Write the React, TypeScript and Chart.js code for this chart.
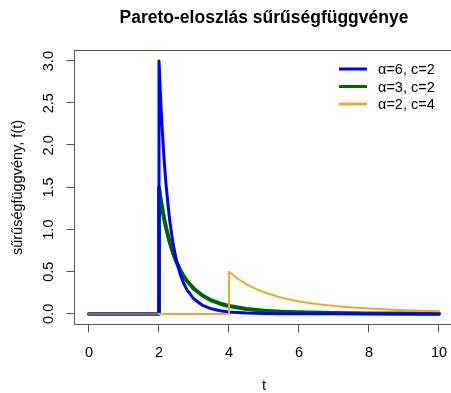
import React, { useEffect, useRef } from "react";
import { Chart, registerables } from "chart.js";

Chart.register(...registerables);

const TITLE = "Pareto-eloszlás sűrűségfüggvénye";
const X_TITLE = "t";
const Y_TITLE = "sűrűségfüggvény, f(t)";
const X_TICKS = [0, 2, 4, 6, 8, 10];
const X_TICK_LABELS = ["0", "2", "4", "6", "8", "10"];
const Y_TICKS = [0, 0.5, 1, 1.5, 2, 2.5, 3];
const Y_TICK_LABELS = ["0.0", "0.5", "1.0", "1.5", "2.0", "2.5", "3.0"];
const SERIES_LABELS = ["α=6, c=2", "α=3, c=2", "α=2, c=4"];
const SERIES_COLORS = ["#0000FF", "#006400", "#F4A72A"];
const SERIES_WIDTHS = [3, 4, 2];

const T_BLUE = [0, 2, 2, 2.05, 2.1, 2.15, 2.2, 2.3, 2.4, 2.5, 2.6, 2.7, 2.8, 3, 3.25, 3.5, 3.75, 4, 4.5, 5, 5.5, 6, 7, 8, 9, 10];
const F_BLUE = [0, 0, 3.0, 2.523, 2.132, 1.808, 1.539, 1.128, 0.837, 0.629, 0.478, 0.367, 0.285, 0.176, 0.1, 0.06, 0.037, 0.023, 0.01, 0.005, 0.0025, 0.0014, 0.0005, 0.0002, 0.0001, 0.00004];

const T_GREEN = [0, 2, 2, 2.05, 2.1, 2.15, 2.2, 2.3, 2.4, 2.5, 2.6, 2.7, 2.8, 3, 3.25, 3.5, 3.75, 4, 4.5, 5, 5.5, 6, 7, 8, 9, 10];
const F_GREEN = [0, 0, 1.5, 1.359, 1.234, 1.123, 1.025, 0.858, 0.723, 0.614, 0.525, 0.452, 0.39, 0.296, 0.215, 0.16, 0.121, 0.094, 0.059, 0.038, 0.026, 0.019, 0.01, 0.006, 0.004, 0.0024];

const T_ORANGE = [0, 2, 4, 4, 4.25, 4.5, 4.75, 5, 5.5, 6, 6.5, 7, 7.5, 8, 8.5, 9, 9.5, 10];
const F_ORANGE = [0, 0, 0, 0.5, 0.417, 0.351, 0.299, 0.256, 0.192, 0.148, 0.117, 0.093, 0.076, 0.0625, 0.052, 0.044, 0.037, 0.032];

const FONT = "'Liberation Sans', Arial, sans-serif";

const toPts = (t: number[], f: number[]) => t.map((x, i) => ({ x, y: f[i] }));

const decorPlugin = {
  id: "decor",
  afterDraw(chart: any) {
    const ctx = chart.ctx as CanvasRenderingContext2D;
    const area = chart.chartArea;
    const xs = chart.scales.x;
    const ys = chart.scales.y;
    ctx.save();
    const L = Math.round(area.left) - 0.5;
    const T = Math.round(area.top) - 0.5;
    const R = Math.round(area.right) - 0.5;
    const B = Math.round(area.bottom) + 0.5;
    ctx.strokeStyle = "#555";
    ctx.lineWidth = 1;
    ctx.strokeRect(L, T, R - L, B - T);
    ctx.beginPath();
    X_TICKS.forEach((v) => {
      const px = Math.round(xs.getPixelForValue(v)) - 0.5;
      ctx.moveTo(px, B);
      ctx.lineTo(px, B + 8);
    });
    Y_TICKS.forEach((v) => {
      const py = Math.round(ys.getPixelForValue(v)) - 0.5;
      ctx.moveTo(L, py);
      ctx.lineTo(L - 8, py);
    });
    ctx.stroke();
    ctx.fillStyle = "#000";
    ctx.font = `14.5px ${FONT}`;
    ctx.textAlign = "center";
    ctx.textBaseline = "alphabetic";
    X_TICKS.forEach((v, i) => {
      ctx.fillText(X_TICK_LABELS[i], xs.getPixelForValue(v), 357);
    });
    Y_TICKS.forEach((v, i) => {
      ctx.save();
      ctx.translate(53, ys.getPixelForValue(v));
      ctx.rotate(-Math.PI / 2);
      ctx.fillText(Y_TICK_LABELS[i], 0, 0);
      ctx.restore();
    });
    const cx = (area.left + area.right) / 2;
    const cy = (area.top + area.bottom) / 2;
    ctx.fillText(X_TITLE, cx, 390);
    ctx.save();
    ctx.translate(22, cy);
    ctx.rotate(-Math.PI / 2);
    ctx.fillText(Y_TITLE, 0, 0);
    ctx.restore();
    ctx.font = `bold 17.5px ${FONT}`;
    ctx.fillText(TITLE, cx, 23);
    ctx.font = `14.5px ${FONT}`;
    ctx.textAlign = "left";
    ctx.textBaseline = "middle";
    SERIES_LABELS.forEach((lab, i) => {
      const y = 69 + i * 17.5;
      ctx.strokeStyle = SERIES_COLORS[i];
      ctx.lineWidth = 3;
      ctx.beginPath();
      ctx.moveTo(339, y);
      ctx.lineTo(367, y);
      ctx.stroke();
      ctx.fillStyle = "#000";
      ctx.fillText(lab, 378, y + 1);
    });
    ctx.restore();
  },
};

export default function App() {
  const ref = useRef<HTMLCanvasElement | null>(null);
  useEffect(() => {
    if (!ref.current) return;
    const chart = new Chart(ref.current, {
      type: "line",
      data: {
        datasets: [
          {
            label: SERIES_LABELS[2],
            data: toPts(T_ORANGE, F_ORANGE),
            borderColor: SERIES_COLORS[2],
            borderWidth: SERIES_WIDTHS[2],
            order: 1,
            segment: {
              borderColor: (c: any) => (c.p1.parsed.x <= 2 ? "rgba(244,167,42,0.55)" : SERIES_COLORS[2]),
              borderWidth: (c: any) => (c.p1.parsed.x <= 2 ? 3 : SERIES_WIDTHS[2]),
            },
          },
          {
            label: SERIES_LABELS[0],
            data: toPts(T_BLUE, F_BLUE),
            borderColor: SERIES_COLORS[0],
            borderWidth: SERIES_WIDTHS[0],
            order: 2,
          },
          {
            label: SERIES_LABELS[1],
            data: toPts(T_GREEN, F_GREEN),
            borderColor: SERIES_COLORS[1],
            borderWidth: SERIES_WIDTHS[1],
            order: 3,
          },
        ],
      },
      options: {
        responsive: false,
        maintainAspectRatio: false,
        devicePixelRatio: 1,
        animation: false,
        events: [],
        layout: { padding: { left: 75, top: 51, right: 7, bottom: 69 } },
        elements: {
          point: { radius: 0 },
          line: { tension: 0, borderCapStyle: "round", borderJoinStyle: "round", fill: false },
        },
        plugins: {
          legend: { display: false },
          title: { display: false },
          tooltip: { enabled: false },
        },
        scales: {
          x: { type: "linear", min: -0.4, max: 10.4, display: false },
          y: { type: "linear", min: -0.12, max: 3.12, display: false },
        },
      },
      plugins: [decorPlugin],
    });
    return () => chart.destroy();
  }, []);
  return (
    <div
      style={{
        position: "fixed",
        left: 0,
        top: 0,
        width: 451,
        height: 393,
        overflow: "hidden",
        background: "#fff",
      }}
    >
      <canvas ref={ref} width={460} height={393} style={{ display: "block", width: 460, height: 393 }} />
    </div>
  );
}
